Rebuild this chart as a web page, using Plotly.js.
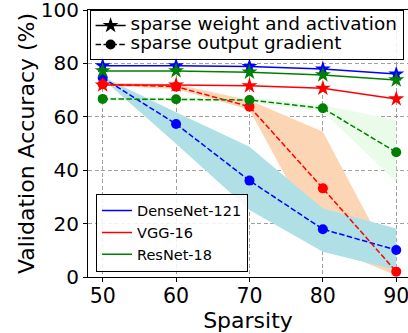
<!DOCTYPE html>
<html>
<head>
<meta charset="utf-8">
<script src="https://cdn.plot.ly/plotly-3.0.1.min.js"></script>
<style>html,body{margin:0;padding:0;background:#fff;}#chart{width:408px;height:333px;}</style>
</head>
<body>
<div id="chart"></div>
<script>
// ---- data ----
const sparsity = [50, 60, 70, 80, 90];
const models = ['DenseNet-121', 'VGG-16', 'ResNet-18'];
// sparse weight and activation (solid, star)
const denseWA = [79.1, 79.1, 78.8, 77.9, 76.0];
const vggWA   = [71.9, 71.9, 71.6, 70.7, 66.7];
const resWA   = [77.2, 77.2, 76.7, 75.7, 73.8];
// sparse output gradient (dashed, circle)
const denseOG = [74.6, 57.3, 36.1, 17.9, 10.1];
const vggOG   = [72.2, 71.3, 63.8, 33.2, 2.0];
const resOG   = [66.7, 66.6, 66.3, 63.2, 46.7];
// shaded ranges for sparse output gradient
const denseUpper = [75.0, 61.7, 48.8, 25.7, 18.2];
const denseLower = [74.2, 49.9, 25.1, 9.5, 2.6];
const vggUpper   = [72.8, 72.2, 66.2, 54.4, 2.4];
const vggLower   = [71.6, 70.4, 62.6, 12.0, 0.6];
const resUpper   = [67.3, 67.2, 67.3, 64.3, 58.8];
const resLower   = [66.0, 65.9, 65.3, 62.0, 35.7];
const yTicks = [0, 20, 40, 60, 80, 100];

const colors = {'DenseNet-121': '#0000ff', 'VGG-16': '#ff0000', 'ResNet-18': '#008000'};
const bandColors = {'DenseNet-121': '#b0dfe5', 'VGG-16': '#fcd5b5', 'ResNet-18': '#eafbea'};
const WA = {'DenseNet-121': denseWA, 'VGG-16': vggWA, 'ResNet-18': resWA};
const OG = {'DenseNet-121': denseOG, 'VGG-16': vggOG, 'ResNet-18': resOG};
const UP = {'DenseNet-121': denseUpper, 'VGG-16': vggUpper, 'ResNet-18': resUpper};
const LO = {'DenseNet-121': denseLower, 'VGG-16': vggLower, 'ResNet-18': resLower};

const traces = [];
// bands: ResNet, VGG, then DenseNet on top
['ResNet-18', 'VGG-16', 'DenseNet-121'].forEach(m => {
  traces.push({
    x: sparsity.concat(sparsity.slice().reverse()),
    y: UP[m].concat(LO[m].slice().reverse()),
    type: 'scatter', mode: 'lines', fill: 'toself',
    fillcolor: bandColors[m], line: {width: 0, color: bandColors[m]},
    hoverinfo: 'skip', showlegend: false
  });
});
const dash = '5.5px,2.4px';
models.forEach(m => {
  traces.push({
    x: sparsity, y: OG[m], type: 'scatter', mode: 'lines+markers',
    line: {color: colors[m], width: 1.5, dash: dash},
    marker: {symbol: 'circle', size: 10, color: colors[m]},
    showlegend: false
  });
});
models.forEach(m => {
  traces.push({
    x: sparsity, y: WA[m], type: 'scatter', mode: 'lines+markers',
    line: {color: colors[m], width: 1.5},
    marker: {symbol: 'star', size: 12, color: colors[m]},
    showlegend: false
  });
});
// legend entries: models
models.forEach(m => {
  traces.push({
    x: [null], y: [null], type: 'scatter', mode: 'lines', name: m,
    line: {color: colors[m], width: 1.5}, legend: 'legend'
  });
});
// legend entries: line styles
traces.push({
  x: [null], y: [null], type: 'scatter', mode: 'lines+markers',
  name: '<span style="font-size:18.4px">sparse weight and activation</span>',
  line: {color: '#000', width: 1.5}, marker: {symbol: 'star', size: 12, color: '#000'},
  legend: 'legend2'
});
traces.push({
  x: [null], y: [null], type: 'scatter', mode: 'lines+markers',
  name: '<span style="font-size:18.4px">sparse output gradient</span>',
  line: {color: '#000', width: 1.5, dash: dash}, marker: {symbol: 'circle', size: 10, color: '#000'},
  legend: 'legend2'
});

const font = 'DejaVu Sans, sans-serif';
const layout = {
  width: 408, height: 333,
  margin: {l: 88, r: 0, t: 10, b: 56},
  paper_bgcolor: '#fff', plot_bgcolor: '#fff',
  font: {family: font, color: '#000'},
  xaxis: {
    range: [48, 91.6], tickvals: sparsity, ticktext: sparsity.map(String),
    showgrid: true, gridcolor: '#a0a0a0', griddash: '4px,2.5px', gridwidth: 1,
    zeroline: false, showline: true, linecolor: '#000', linewidth: 1, mirror: true,
    ticks: 'outside', ticklen: 4, tickcolor: '#000', ticklabeloverflow: 'allow',
    ticklabelstandoff: -4,
    tickfont: {size: 20.5, family: font},
    automargin: 'bottom',
    title: {text: 'Sparsity', font: {size: 22, family: font}, standoff: 0}
  },
  yaxis: {
    range: [0, 100], tickvals: yTicks, ticktext: yTicks.map(String),
    showgrid: true, gridcolor: '#a0a0a0', griddash: '4px,2.5px', gridwidth: 1,
    zeroline: false, showline: true, linecolor: '#000', linewidth: 1, mirror: true,
    ticks: 'outside', ticklen: 4, tickcolor: '#000', ticklabeloverflow: 'allow',
    tickfont: {size: 20, family: font},
    automargin: 'left',
    title: {text: 'Validation Accuracy (%)', font: {size: 22, family: font}, standoff: 0}
  },
  legend: {
    x: 0.025, y: 0.02, xanchor: 'left', yanchor: 'bottom',
    bgcolor: 'rgba(255,255,255,0.85)', bordercolor: '#000', borderwidth: 1,
    font: {size: 14.5, family: font}, itemwidth: 30
  },
  legend2: {
    x: 0.005, y: 1, xanchor: 'left', yanchor: 'top',
    bgcolor: 'rgba(255,255,255,0.85)', bordercolor: '#000', borderwidth: 1,
    font: {size: 12, family: font}, itemwidth: 30
  },
  showlegend: true
};
Plotly.newPlot('chart', traces, layout, {displayModeBar: false, staticPlot: true});
</script>
</body>
</html>
